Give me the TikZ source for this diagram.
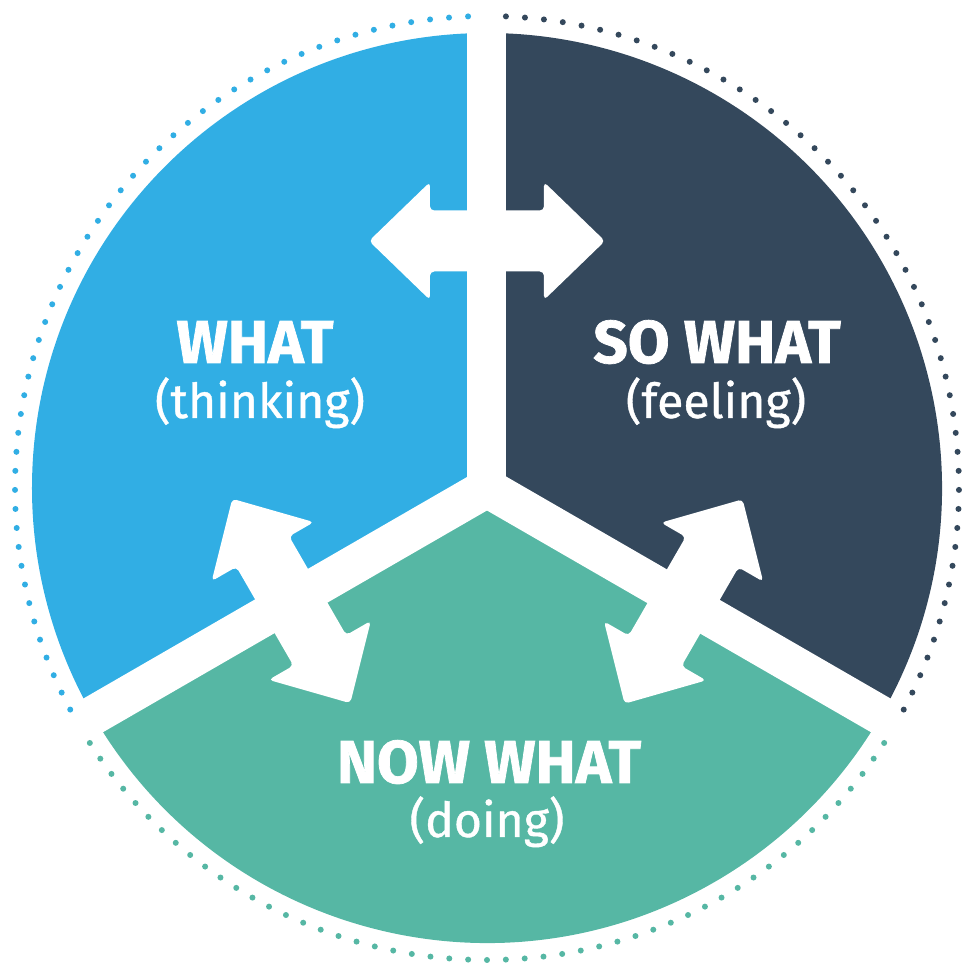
\documentclass[tikz,border=0pt]{standalone}
\usepackage{fontspec}
\setmainfont{Fira Sans}
\newfontfamily\headfont{Fira Sans}[BoldFeatures={FakeBold=1.2}]
\newfontfamily\subfont{Fira Sans}[FakeBold=0.8]
\usepackage{xcolor}

\definecolor{whatblue}{RGB}{49,174,228}
\definecolor{sonavy}{RGB}{52,72,92}
\definecolor{nowteal}{RGB}{86,183,164}

\tikzset{
  twoway/.pic={
    \fill[white, rounded corners=1.2pt]
      (1.18,0) -- (0.57,0.59) -- (0.57,0.305) -- (-0.57,0.305) -- (-0.57,0.59)
      -- (-1.18,0) -- (-0.57,-0.59) -- (-0.57,-0.305) -- (0.57,-0.305)
      -- (0.57,-0.59) -- cycle;
  }
}

\begin{document}
\begin{tikzpicture}[
  title/.style={text=white, anchor=base, inner sep=0pt, font=\headfont\fontsize{17.2}{19}\selectfont\bfseries},
  subtitle/.style={text=white, anchor=base, inner sep=0pt, font=\subfont\fontsize{13.7}{15}\selectfont},
  gapline/.style={white, line width=3.9mm},
  dot/.style={radius=0.03}]
  \useasboundingbox (-4.87,-4.79) rectangle (4.85,4.88);
  % the three sectors
  \fill[whatblue] (0,0) -- (90:4.55) arc (90:210:4.55) -- cycle;
  \fill[sonavy] (0,0) -- (-30:4.55) arc (-30:90:4.55) -- cycle;
  \fill[nowteal] (0,0) -- (210:4.55) arc (210:330:4.55) -- cycle;
  \foreach \a in {90,210,330}
    \draw[gapline] (0,0) -- (\a:4.65);
  \fill[white] (0,0) circle (0.19);
  % dotted outer ring
  \foreach \i in {0,...,50} {
    \fill[whatblue] (92.3+\i*2.314:4.72) circle[dot];
    \fill[sonavy] (-28+\i*2.314:4.72) circle[dot];
    \fill[nowteal] (212.7+\i*2.292:4.72) circle[dot];
  }
  % arrows across the gaps
  \pic at (0,2.47) {twoway};
  \pic[rotate=120] at (210:2.26) {twoway};
  \pic[rotate=60] at (330:2.27) {twoway};
  % labels
  \node[title] (what) at (-2.32,1.25) {WHAT};
  \node[subtitle] (thinking) at (-2.27,0.70) {(thinking)};
  \node[title] (sowhat) at (2.30,1.25) {SO WHAT};
  \node[subtitle] (feeling) at (2.29,0.70) {(feeling)};
  \node[title] (nowwhat) at (0.02,-2.95) {NOW WHAT};
  \node[subtitle] (doing) at (0,-3.49) {(doing)};
\end{tikzpicture}
\end{document}
